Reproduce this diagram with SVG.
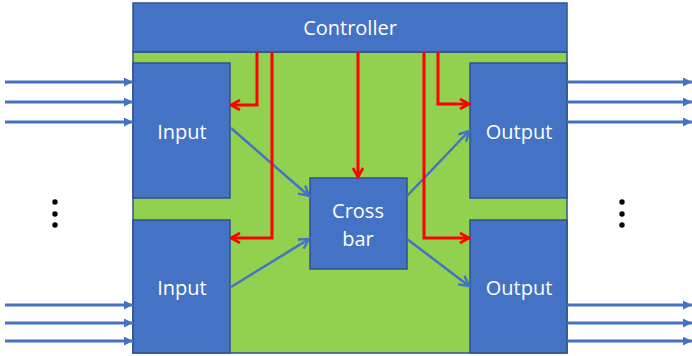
<svg xmlns="http://www.w3.org/2000/svg" width="692" height="356" viewBox="0 0 692 356">
<defs>
<style>
.box{fill:#4472C4;stroke:#2F528F;stroke-width:1.5}
.bg{fill:#92D050;stroke:#2F528F;stroke-width:1.5}
.lbl{fill:#fff;font-family:"Open Sans","Noto Sans",sans-serif;font-size:20px;text-anchor:middle}
.blue{fill:none;stroke:#4472C4;stroke-width:2.5}
.io{fill:none;stroke:#4472C4;stroke-width:3}
.red{fill:none;stroke:#FF0000;stroke-width:3}
</style>
<marker id="bh" viewBox="0 0 10 10" refX="10" refY="5" markerWidth="9" markerHeight="9" markerUnits="userSpaceOnUse" orient="auto"><path d="M0,0 L10,5 L0,10 Z" fill="#4472C4"/></marker>
<marker id="bo" viewBox="0 0 12 12" refX="10" refY="6" markerWidth="13" markerHeight="13" markerUnits="userSpaceOnUse" orient="auto"><path d="M1,1 L10,6 L1,11" fill="none" stroke="#4472C4" stroke-width="2.2"/></marker>
<marker id="ro" viewBox="0 0 12 12" refX="10" refY="6" markerWidth="12" markerHeight="12" markerUnits="userSpaceOnUse" orient="auto"><path d="M1,1 L10,6 L1,11" fill="none" stroke="#FF0000" stroke-width="2.6"/></marker>
</defs>
<g id="switch"><rect class="bg" x="133" y="52" width="434" height="301"/></g>
<g id="controller"><rect class="box" x="133" y="3" width="434" height="49"/><text class="lbl" x="350" y="35">Controller</text></g>
<g id="input1"><rect class="box" x="133" y="63" width="97" height="135"/><text class="lbl" x="182" y="139">Input</text></g>
<g id="input2"><rect class="box" x="133" y="220" width="97" height="133"/><text class="lbl" x="182" y="295">Input</text></g>
<g id="output1"><rect class="box" x="470" y="63" width="97" height="135"/><text class="lbl" x="519" y="139">Output</text></g>
<g id="output2"><rect class="box" x="470" y="220" width="97" height="133"/><text class="lbl" x="519" y="295">Output</text></g>
<g id="crossbar"><rect class="box" x="310" y="178" width="97" height="91"/><text class="lbl" x="358" y="218">Cross</text><text class="lbl" x="358" y="246">bar</text></g>
<g id="connectors">
<line class="io" x1="5" y1="82" x2="133" y2="82" marker-end="url(#bh)"/>
<line class="io" x1="5" y1="102" x2="133" y2="102" marker-end="url(#bh)"/>
<line class="io" x1="5" y1="122" x2="133" y2="122" marker-end="url(#bh)"/>
<line class="io" x1="5" y1="305" x2="133" y2="305" marker-end="url(#bh)"/>
<line class="io" x1="5" y1="323" x2="133" y2="323" marker-end="url(#bh)"/>
<line class="io" x1="5" y1="341" x2="133" y2="341" marker-end="url(#bh)"/>
<line class="io" x1="567" y1="82" x2="692" y2="82" marker-end="url(#bh)"/>
<line class="io" x1="567" y1="102" x2="692" y2="102" marker-end="url(#bh)"/>
<line class="io" x1="567" y1="122" x2="692" y2="122" marker-end="url(#bh)"/>
<line class="io" x1="567" y1="305" x2="692" y2="305" marker-end="url(#bh)"/>
<line class="io" x1="567" y1="323" x2="692" y2="323" marker-end="url(#bh)"/>
<line class="io" x1="567" y1="341" x2="692" y2="341" marker-end="url(#bh)"/>
<line class="blue" x1="231" y1="128" x2="309" y2="196" marker-end="url(#bo)"/>
<line class="blue" x1="231" y1="287" x2="309" y2="239" marker-end="url(#bo)"/>
<line class="blue" x1="407" y1="196" x2="469" y2="131" marker-end="url(#bo)"/>
<line class="blue" x1="407" y1="239" x2="469" y2="286" marker-end="url(#bo)"/>
<polyline class="red" points="257,52 257,105 231,105" marker-end="url(#ro)"/>
<polyline class="red" points="272,52 272,238 231,238" marker-end="url(#ro)"/>
<polyline class="red" points="358,52 358,177" marker-end="url(#ro)"/>
<polyline class="red" points="438,52 438,104 469,104" marker-end="url(#ro)"/>
<polyline class="red" points="424,52 424,238 469,238" marker-end="url(#ro)"/>
</g>
<g id="dots" fill="#000">
<circle cx="55" cy="202" r="2.7"/><circle cx="55" cy="214" r="2.7"/><circle cx="55" cy="225" r="2.7"/>
<circle cx="622" cy="202" r="2.7"/><circle cx="622" cy="214" r="2.7"/><circle cx="622" cy="225" r="2.7"/>
</g>
</svg>
